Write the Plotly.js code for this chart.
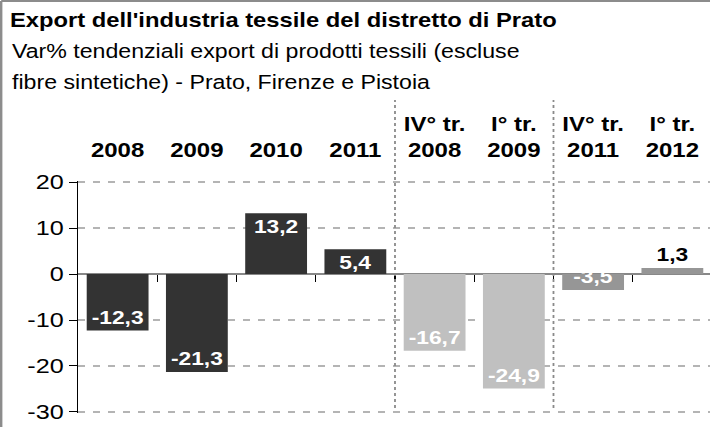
<!DOCTYPE html>
<html>
<head>
<meta charset="utf-8">
<script src="https://cdn.plot.ly/plotly-3.0.1.min.js"></script>
<style>
  html, body { margin: 0; padding: 0; background: #fff; overflow: hidden; }
  #wrap { width: 710px; height: 427px; overflow: hidden; position: relative; }
  #chart { width: 592px; height: 427px; transform: scaleX(1.2); transform-origin: 0 0; }
</style>
</head>
<body>
<div id="wrap"><div id="chart"></div></div>
<script>
// ---- data ----
const categories = ['2008', '2009', '2010', '2011', 'IV° tr.<br>2008', 'I° tr.<br>2009', 'IV° tr.<br>2011', 'I° tr.<br>2012'];
const values = [-12.3, -21.3, 13.2, 5.4, -16.7, -24.9, -3.5, 1.3];
const groups = ['anno', 'anno', 'anno', 'anno', 'crisi', 'crisi', 'recente', 'recente'];
const titleText = "Export dell'industria tessile del distretto di Prato";
const subtitleLines = ['Var% tendenziali export di prodotti tessili (escluse', 'fibre sintetiche) - Prato, Firenze e Pistoia'];
const yTicks = [-30, -20, -10, 0, 10, 20];
const yTickLabels = ['-30', '-20', '-10', '0', '10', '20'];

// ---- styles ----
const FONT = 'Liberation Sans, Arial, sans-serif';
const groupColor = { anno: '#333333', crisi: '#c0c0c0', recente: '#969696' };
const barColors = groups.map(g => groupColor[g]);
const labelPos = values.map(v => (Math.abs(v) < 2 ? 'outside' : 'inside'));
const labelColor = labelPos.map(p => (p === 'outside' ? '#000000' : '#ffffff'));

const xRange = [-0.5, 7.48];
const boundaries = categories.slice(1).map((c, i) => i + 0.5);

const bars = {
  type: 'bar',
  x: categories,
  y: values,
  marker: { color: barColors, line: { width: 0 } },
  width: 0.78,
  texttemplate: '%{y:.1f}',
  textposition: labelPos,
  insidetextanchor: 'end',
  constraintext: 'none',
  textangle: 0,
  cliponaxis: false,
  textfont: { family: FONT, size: 19, weight: 'bold', color: labelColor },
  hoverinfo: 'skip',
  showlegend: false
};

const tickHelper = {
  type: 'scatter', mode: 'markers', x: [], y: [], xaxis: 'x2', yaxis: 'y',
  showlegend: false, hoverinfo: 'skip'
};

// plot area: 181px .. 413px, y range padded so 20 -> 182px and -30 -> 412px
const T = 181, B = 14, H = 427 - T - B;
function paperY(px) { return (427 - B - px) / H; }
const L = 65, PW = 527;
function paperX(px) { return (px - L) / PW; }

const layout = {
  width: 592,
  height: 427,
  margin: { l: L, r: 0, t: T, b: B, pad: 0 },
  paper_bgcolor: '#ffffff',
  plot_bgcolor: '#ffffff',
  separators: ', ',
  font: { family: FONT, color: '#000000' },
  title: {
    text: titleText,
    font: { family: FONT, size: 19.8, weight: 'bold', color: '#000000' },
    x: 8.3 / 592, xref: 'container', xanchor: 'left',
    y: 1 - 20.5 / 427, yref: 'container', yanchor: 'middle'
  },
  xaxis: {
    type: 'category',
    side: 'top',
    range: xRange,
    showline: false, showgrid: false, zeroline: false,
    ticks: '',
    ticklabelstandoff: 19,
    tickfont: { family: FONT, size: 20, weight: 'bold', color: '#000000' },
    fixedrange: true
  },
  xaxis2: {
    overlaying: 'x',
    anchor: 'free',
    position: paperY(274),
    side: 'bottom',
    type: 'linear',
    range: xRange,
    tickmode: 'array',
    tickvals: boundaries,
    ticks: 'outside', ticklen: 7, tickwidth: 1, tickcolor: '#000000',
    showticklabels: false, showline: false, showgrid: false, zeroline: false,
    fixedrange: true
  },
  yaxis: {
    range: [-30.22, 20.22],
    tickmode: 'array',
    tickvals: yTicks,
    ticktext: yTickLabels,
    showline: true, linecolor: '#000000', linewidth: 1,
    ticks: 'outside', ticklen: 6.7, tickcolor: '#000000', tickwidth: 1,
    ticklabelstandoff: 4.5,
    tickfont: { family: FONT, size: 21, color: '#000000' },
    showgrid: true, gridcolor: '#b4b4b4', gridwidth: 1.5, griddash: '6px,6.5px',
    zeroline: true, zerolinecolor: '#888888', zerolinewidth: 1.5,
    fixedrange: true
  },
  annotations: subtitleLines.map((t, i) => ({
    text: t, showarrow: false,
    xref: 'paper', yref: 'paper',
    x: paperX(8.3), xanchor: 'left',
    y: paperY(51 + i * 31), yanchor: 'middle',
    font: { family: FONT, size: 19.3, color: '#000000' }
  })),
  shapes: [
    // separators between groups
    ...[3.5, 5.5].map(xv => ({
      type: 'line', xref: 'x2', yref: 'paper',
      x0: xv, x1: xv, y0: paperY(408), y1: paperY(100),
      line: { color: '#8a8a8a', width: 1.5, dash: 'dot' }, layer: 'above'
    })),
    // outer frame (left and top)
    { type: 'line', xref: 'paper', yref: 'paper', x0: paperX(1), x1: paperX(1), y0: paperY(440), y1: paperY(1),
      line: { color: '#8c8c8c', width: 2 } },
    { type: 'line', xref: 'paper', yref: 'paper', x0: paperX(1), x1: paperX(720), y0: paperY(1), y1: paperY(1),
      line: { color: '#8c8c8c', width: 2 } }
  ],
  hovermode: false,
  showlegend: false
};

Plotly.newPlot('chart', [bars, tickHelper], layout, { displayModeBar: false, staticPlot: true });
</script>
</body>
</html>
